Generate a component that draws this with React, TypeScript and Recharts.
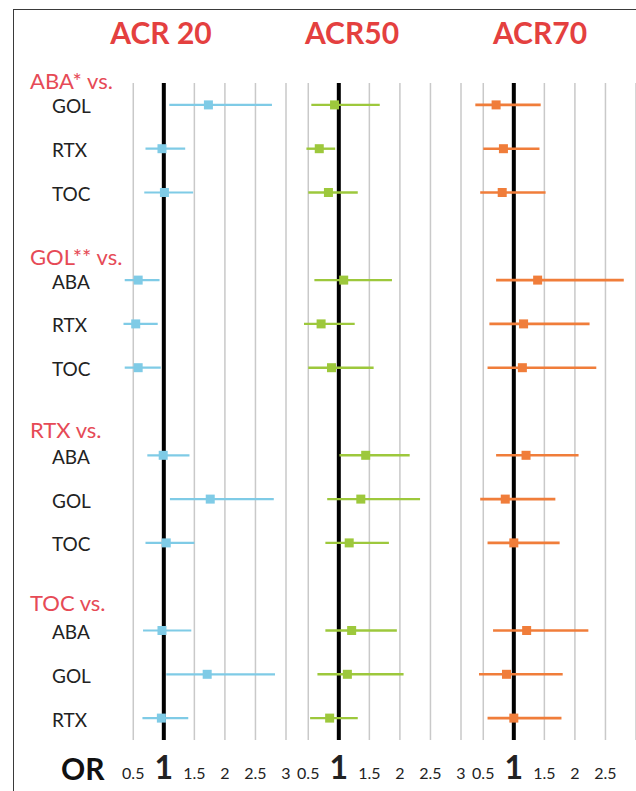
import React from "react";
import {
  ScatterChart,
  Scatter,
  XAxis,
  YAxis,
  ReferenceLine,
  ErrorBar,
} from "recharts";

// ---------- data ----------
const ROW_SLOTS = [0, 1, 2, 4, 5, 6, 8, 9, 10, 12, 13, 14];
const ROW_LABELS = ["GOL", "RTX", "TOC", "ABA", "RTX", "TOC", "ABA", "GOL", "TOC", "ABA", "GOL", "RTX"];
const GROUP_SLOTS = [-0.55, 3.45, 7.4, 11.35];
const GROUP_LABELS = ["ABA* vs.", "GOL** vs.", "RTX vs.", "TOC vs."];

const PANEL_TITLES = ["ACR 20", "ACR50", "ACR70"];
const X_TICKS = [0.5, 1, 1.5, 2, 2.5, 3];
const X_TICKS_LAST = [0.5, 1, 1.5, 2, 2.5];

const acr20Est = [1.73, 0.97, 1.01, 0.58, 0.54, 0.58, 0.99, 1.76, 1.04, 0.97, 1.71, 0.96];
const acr20Lo = [1.09, 0.70, 0.68, 0.36, 0.34, 0.36, 0.73, 1.10, 0.70, 0.66, 1.04, 0.65];
const acr20Hi = [2.77, 1.35, 1.48, 0.93, 0.90, 0.95, 1.42, 2.80, 1.50, 1.45, 2.82, 1.40];

const acr50Est = [0.93, 0.68, 0.83, 1.08, 0.71, 0.88, 1.44, 1.36, 1.17, 1.21, 1.14, 0.85];
const acr50Lo = [0.55, 0.47, 0.50, 0.60, 0.43, 0.50, 1.01, 0.81, 0.78, 0.78, 0.65, 0.53];
const acr50Hi = [1.67, 0.94, 1.31, 1.87, 1.26, 1.57, 2.16, 2.33, 1.82, 1.95, 2.06, 1.31];

const acr70Est = [0.71, 0.83, 0.81, 1.39, 1.16, 1.14, 1.20, 0.86, 1.00, 1.21, 0.88, 1.00];
const acr70Lo = [0.37, 0.50, 0.45, 0.71, 0.60, 0.57, 0.71, 0.45, 0.57, 0.66, 0.43, 0.57];
const acr70Hi = [1.44, 1.42, 1.52, 2.80, 2.24, 2.35, 2.06, 1.68, 1.75, 2.22, 1.80, 1.78];

// ---------- styles ----------
const FONT = "Lato, 'Open Sans', sans-serif";
const TITLE_RED = "#e4403f";
const GROUP_RED = "#e64a56";
const TEXT = "#222222";

const CHART_H = 791;

type PanelProps = {
  left: number;
  width: number;
  marginLeft: number;
  marginRight: number;
  est: number[];
  lo: number[];
  hi: number[];
  color: string;
  lineWidth: number;
  ticks: number[];
  showLabels: boolean;
};

const YTick = (props: any) => {
  const { y, payload } = props;
  const v = payload.value;
  const ri = ROW_SLOTS.indexOf(v);
  if (ri >= 0) {
    return (
      <text x={52} y={y} dy={1} dominantBaseline="central" fontSize={19} fontFamily={FONT} fill={TEXT}>
        {ROW_LABELS[ri]}
      </text>
    );
  }
  const gi = GROUP_SLOTS.indexOf(v);
  if (gi >= 0) {
    return (
      <text x={30} y={y} dominantBaseline="central" fontSize={22} fontFamily={FONT} fill={GROUP_RED}>
        {GROUP_LABELS[gi]}
      </text>
    );
  }
  return null;
};

const XTick = (props: any) => {
  const { x, payload } = props;
  const isOne = payload.value === 1;
  return (
    <text
      x={x}
      y={779}
      textAnchor="middle"
      fontSize={isOne ? 32 : 16}
      fontWeight={isOne ? 700 : 400}
      fontFamily={FONT}
      fill={TEXT}
    >
      {String(payload.value)}
    </text>
  );
};

const Panel = (p: PanelProps) => {
  const data = ROW_SLOTS.map((slot, i) => ({
    slot,
    est: p.est[i],
    err: [p.est[i] - p.lo[i], p.hi[i] - p.est[i]],
  }));
  const yTicks = [...ROW_SLOTS, ...GROUP_SLOTS].sort((a, b) => a - b);
  const Square = (sp: any) => (
    <rect x={sp.cx - 4.5} y={sp.cy - 4.5} width={9} height={9} fill={p.color} />
  );
  return (
    <div style={{ position: "absolute", left: p.left, top: 0 }}>
      <ScatterChart
        width={p.width}
        height={CHART_H}
        margin={{ top: 83, right: p.marginRight, bottom: 11, left: p.marginLeft }}
      >
        <XAxis
          type="number"
          dataKey="est"
          domain={[0.25, 3]}
          allowDataOverflow
          ticks={p.ticks}
          interval={0}
          axisLine={false}
          tickLine={false}
          height={40}
          tick={<XTick />}
        />
        <YAxis
          type="number"
          dataKey="slot"
          domain={[-0.5, 14.5]}
          allowDataOverflow
          reversed
          ticks={p.showLabels ? yTicks : []}
          interval={0}
          axisLine={false}
          tickLine={false}
          hide={!p.showLabels}
          width={p.showLabels ? 105 : 0}
          tick={<YTick />}
        />
        {X_TICKS.map((t) => (
          <ReferenceLine key={`g${t}`} x={t} stroke="#c9c9c9" strokeWidth={1.5} />
        ))}
        <ReferenceLine x={1} stroke="#000000" strokeWidth={4} />
        <Scatter data={data} isAnimationActive={false} shape={Square} fill={p.color}>
          <ErrorBar
            dataKey="err"
            direction="x"
            width={0}
            stroke={p.color}
            strokeWidth={p.lineWidth}
            isAnimationActive={false}
          />
        </Scatter>
      </ScatterChart>
    </div>
  );
};

export default function App() {
  const titleX = [161, 352, 540];
  return (
    <div
      style={{
        position: "absolute",
        left: 0,
        top: 0,
        width: 636,
        height: CHART_H,
        overflow: "hidden",
        background: "#ffffff",
        fontFamily: FONT,
      }}
    >
      <div
        style={{
          position: "absolute",
          left: 13,
          top: 9,
          width: 640,
          height: 800,
          borderLeft: "1.5px solid #3a3a3a",
          borderTop: "1.5px solid #3a3a3a",
        }}
      />
      <Panel
        left={0}
        width={296}
        marginLeft={13}
        marginRight={10}
        est={acr20Est}
        lo={acr20Lo}
        hi={acr20Hi}
        color="#7fcbe6"
        lineWidth={2.2}
        ticks={X_TICKS}
        showLabels
      />
      <Panel
        left={283}
        width={190}
        marginLeft={10}
        marginRight={12}
        est={acr50Est}
        lo={acr50Lo}
        hi={acr50Hi}
        color="#9dc83c"
        lineWidth={2.4}
        ticks={X_TICKS}
        showLabels={false}
      />
      <Panel
        left={458}
        width={190}
        marginLeft={10}
        marginRight={12}
        est={acr70Est}
        lo={acr70Lo}
        hi={acr70Hi}
        color="#f07d3a"
        lineWidth={2.6}
        ticks={X_TICKS_LAST}
        showLabels={false}
      />
      <svg
        width={636}
        height={CHART_H}
        style={{ position: "absolute", left: 0, top: 0, pointerEvents: "none" }}
      >
        {PANEL_TITLES.map((t, i) => (
          <text
            key={t}
            x={titleX[i]}
            y={44}
            textAnchor="middle"
            fontSize={30}
            fontWeight={700}
            fontFamily={FONT}
            fill={TITLE_RED}
          >
            {t}
          </text>
        ))}
        <text x={61} y={780} fontSize={30} fontWeight={700} fontFamily={FONT} fill="#111111">
          OR
        </text>
      </svg>
    </div>
  );
}
